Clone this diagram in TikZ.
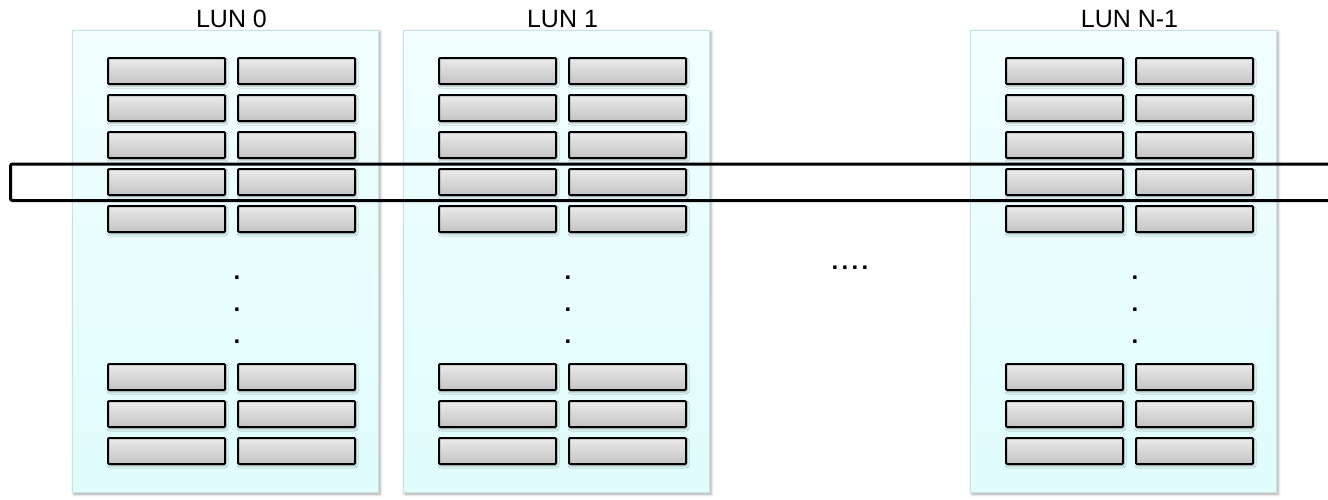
\documentclass[tikz,border=0pt]{standalone}
\usepackage{fontspec}
\setmainfont{Liberation Sans}
\usetikzlibrary{shadows.blur}
\definecolor{panelTop}{HTML}{F2FEFE}
\definecolor{panelBot}{HTML}{E0FCFC}
\definecolor{panelEdge}{HTML}{C6E2E2}
\definecolor{cellTop}{HTML}{EAEAEA}
\definecolor{cellBot}{HTML}{C4C4C4}
\begin{document}
\begin{tikzpicture}[x=1pt,y=-1pt,
  panel/.style={draw=panelEdge, line width=1pt, top color=panelTop, bottom color=panelBot,
    minimum width=306pt, minimum height=462pt, inner sep=0pt,
    blur shadow={shadow xshift=1.5pt, shadow yshift=-1.5pt, shadow blur radius=3pt, shadow opacity=35}},
  cell/.style={draw=black, line width=2pt, rounded corners=1pt, top color=cellTop, bottom color=cellBot,
    minimum width=117pt, minimum height=26pt, inner sep=0pt,
    blur shadow={shadow xshift=1pt, shadow yshift=-2pt, shadow blur radius=2pt, shadow opacity=30}},
  lunlabel/.style={anchor=base, inner sep=0pt, font=\fontsize{25}{30}\selectfont},
  dots/.style={anchor=base, inner sep=0pt, font=\fontsize{24}{26}\selectfont\bfseries},
  band/.style={draw=black, line width=3pt, rounded corners=2pt}
]
\useasboundingbox (0,0) rectangle (1328,499);
\clip (0,0) rectangle (1328,499);

% three LUN columns, each a panel holding two columns of blocks
\foreach \p/\L/\t in {0/72/LUN 0, 1/403/LUN 1, n/970/LUN N-1} {
  \node[panel] (lun\p) at (\L+153.5, 261.5) {};
  \node[lunlabel] (lab\p) at (\L+159.5, 27) {\t};
  \foreach \r/\y in {1/71, 2/108, 3/145, 4/182, 5/219, 6/377, 7/414, 8/451} {
    \node[cell] (c\p-\r-a) at (\L+94.5, \y) {};
    \node[cell] (c\p-\r-b) at (\L+224.5, \y) {};
  }
  \foreach \k/\y in {1/279, 2/311, 3/343}
    \node[dots] (d\p-\k) at (\L+165, \y) {.};
}

% ellipsis between LUN 1 and LUN N-1
\node[dots] (gap) at (850, 269) {\addfontfeatures{LetterSpace=14}....};

% stripe across the same row of every LUN
\draw[band] (10.5,164) rectangle (1345,200.5);
\end{tikzpicture}
\end{document}
